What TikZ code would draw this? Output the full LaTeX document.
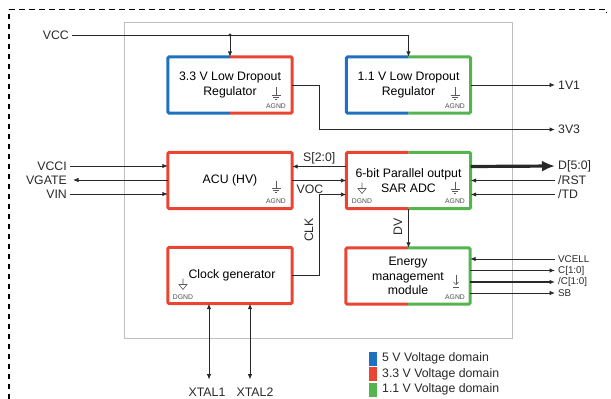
\documentclass[tikz,border=0pt]{standalone}
\usepackage{fontspec}
\setmainfont{Liberation Sans}
\usetikzlibrary{arrows.meta,calc}
\definecolor{vblue}{RGB}{30,112,192}
\definecolor{vred}{RGB}{234,68,50}
\definecolor{vgreen}{RGB}{84,180,78}
\definecolor{wire}{RGB}{40,40,40}
\tikzset{
  blk/.style={minimum width=124pt, minimum height=56pt, inner sep=0pt, align=center,
    font=\fontsize{12.3}{14.6}\selectfont},
  bw/.style={line width=3pt, rounded corners=1.5pt},
  sig/.style={inner sep=0pt, inner xsep=3pt, font=\fontsize{12.3}{14}\selectfont, text=wire},
  ssig/.style={inner sep=0pt, inner xsep=3pt, font=\fontsize{9.8}{11}\selectfont, text=wire},
  tiny/.style={inner sep=0pt, font=\fontsize{6.8}{7}\selectfont, text=black!70},
  arr/.style={draw=wire, line width=0.9pt, -{Latex[length=5.5pt,width=4.5pt]}},
  darr/.style={draw=wire, line width=0.9pt, {Latex[length=5.5pt,width=4.5pt]}-{Latex[length=5.5pt,width=4.5pt]}},
  wr/.style={draw=wire, line width=0.9pt},
  gnd/.pic={\draw[black!65, line width=0.6pt] (0,0) -- (0,8) (-4.5,8) -- (4.5,8) (-2.8,10) -- (2.8,10) (-1,12) -- (1,12);},
  dgnd/.pic={\draw[black!65, line width=0.6pt] (0,0) -- (0,6) (-4,6) -- (4,6) -- (0,11) -- cycle;},
  agnda/.pic={\draw[black!65, line width=0.6pt, -{Straight Barb[length=2.5pt,width=5pt]}] (0,0) -- (0,10); \draw[black!65, line width=0.6pt] (-3,12) -- (3,12);},
}
\begin{document}
\begin{tikzpicture}[x=1pt,y=-1pt]
\useasboundingbox (0,0) rectangle (611,399);
% outer dashed frame
\draw[black, line width=2pt, dash pattern=on 5pt off 5pt] (9,399) -- (9,9);
\draw[black, line width=1pt, dash pattern=on 6pt off 4pt] (9,9) -- (606,9) -- (606,13);
% chip outline
\node[draw=black!25, line width=0.9pt, minimum width=388pt, minimum height=316pt, inner sep=0pt] (chip) at (318,180) {};

% blocks
\node[blk] (ldo3) at (230,85) {3.3 V Low Dropout\\Regulator};
\node[blk] (ldo1) at (408.5,85) {1.1 V Low Dropout\\Regulator};
\node[blk] (acu) at (230,180.5) {ACU (HV)};
\node[blk] (adc) at (408.5,180.5) {6-bit Parallel output\\SAR ADC};
\node[blk] (clk) at (230,275.5) {\hspace*{4pt}Clock generator};
\node[blk] (em) at (408,276) {Energy\\management\\module};

\draw[bw, vblue] (ldo3.north) -| (ldo3.south west) -- (ldo3.south);
\draw[bw, vred] (ldo3.north) -| (ldo3.south east) -- (ldo3.south);
\draw[bw, vblue] (ldo1.north) -| (ldo1.south west) -- (ldo1.south);
\draw[bw, vgreen] (ldo1.north) -| (ldo1.south east) -- (ldo1.south);
\draw[bw, vred] (acu.north west) rectangle (acu.south east);
\draw[bw, vred] (adc.north) -| (adc.south west) -- (adc.south);
\draw[bw, vgreen] (adc.north) -| (adc.south east) -- (adc.south);
\draw[bw, vred] (clk.north west) rectangle (clk.south east);
\draw[bw, vred] (em.north) -| (em.south west) -- (em.south);
\draw[bw, vgreen] (em.north) -| (em.south east) -- (em.south);

% grounds
\pic at ($(ldo3.center)+(46,2)$) {gnd};
\node[tiny] (g1) at ($(ldo3.center)+(46,21)$) {AGND};
\pic at ($(ldo1.center)+(46.5,2)$) {gnd};
\node[tiny] (g2) at ($(ldo1.center)+(46.5,21)$) {AGND};
\pic at ($(acu.center)+(46,0)$) {gnd};
\node[tiny] (g3) at ($(acu.center)+(46,21)$) {AGND};
\pic at ($(adc.center)+(-46.5,2)$) {dgnd};
\node[tiny] (g4) at ($(adc.center)+(-46.5,20.5)$) {DGND};
\pic at ($(adc.center)+(46.5,1)$) {gnd};
\node[tiny] (g5) at ($(adc.center)+(46.5,20.5)$) {AGND};
\pic at ($(clk.center)+(-47,3)$) {dgnd};
\node[tiny] (g6) at ($(clk.center)+(-47,21.5)$) {DGND};
\pic at ($(em.center)+(48,-1)$) {agnda};
\node[tiny] (g7) at ($(em.center)+(47,21)$) {AGND};

% VCC
\node[sig, anchor=east] (vcc) at (72,35) {VCC};
\coordinate (j) at (ldo3.north |- vcc.east);
\draw[arr] (vcc.east) -| (ldo1.north);
\draw[arr] (j) -- (ldo3.north);
\fill[wire] (j) circle (1.6pt);

% outputs of LDOs
\node[sig, anchor=west] (v11) at (555,85) {1V1};
\node[sig, anchor=west] (v33) at (555,129.5) {3V3};
\draw[arr] (ldo1.east) -- (v11.west);
\coordinate (t3) at ($(ldo3.east)+(27,0)$);
\draw[arr] (ldo3.east) -- (t3) |- (v33.west);

% ACU inputs
\node[sig, anchor=east] (vcci) at (70,166) {VCCI};
\node[sig, anchor=east] (vgate) at (70,180) {VGATE};
\node[sig, anchor=east] (vin) at (70,194) {VIN};
\draw[arr] (vcci.east) -- (acu.west |- vcci.east);
\draw[arr] (acu.west |- vgate.east) -- ([xshift=3pt]vgate.east);
\draw[arr] (vin.east) -- (acu.west |- vin.east);

% ACU <-> ADC
\draw[arr, line width=1.6pt] ([yshift=14pt]adc.west) -- ([yshift=14pt]acu.east)
  node[pos=0.5, above=1.5pt, sig, inner xsep=0pt] (slbl) {S[2:0]};
\draw[arr] (acu.east) -- (adc.west);
\node[sig, inner xsep=0pt] (voc) at (310,189) {VOC};
\coordinate (ck) at ($(clk.east)+(27,0)$);
\draw[arr] (clk.east) -- (ck) |- ([yshift=-14pt]adc.west);
\node[sig, rotate=90, inner xsep=0pt] (clkl) at (309,230) {CLK};

% ADC outputs/inputs
\node[sig, anchor=west] (d50) at (555,166) {D[5:0]};
\node[sig, anchor=west] (rst) at (555,180.5) {/RST};
\node[sig, anchor=west] (td) at (555,194.5) {/TD};
\draw[draw=wire, line width=3.2pt, -{Latex[length=13pt,width=11pt]}] ([yshift=14pt]adc.east) -- (d50.west);
\draw[arr] (rst.west) -- (adc.east);
\draw[arr] (td.west) -- ([yshift=-14pt]adc.east);

% DV
\draw[arr] (adc.south) -- (adc.south |- em.north);
\node[sig, rotate=90, inner xsep=0pt] (dvl) at (398,227) {DV};

% Energy management signals
\node[ssig, anchor=west] (vcell) at (555,259) {VCELL};
\node[ssig, anchor=west] (c10) at (555,270.5) {C[1:0]};
\node[ssig, anchor=west] (nc10) at (555,282) {/C[1:0]};
\node[ssig, anchor=west] (sb) at (555,293) {SB};
\draw[arr] (vcell.west) -- (em.east |- vcell.west);
\draw[arr, line width=1.6pt] (em.east |- c10.west) -- (c10.west);
\draw[arr, line width=1.6pt] (em.east |- nc10.west) -- (nc10.west);
\draw[arr] (em.east |- sb.west) -- (sb.west);

% crystal
\node[sig, inner xsep=0pt] (x1) at (207,392) {XTAL1};
\node[sig, inner xsep=0pt] (x2) at (255,392) {XTAL2};
\coordinate (x1t) at ([xshift=-21pt]clk.south);
\coordinate (x2t) at ([xshift=20pt]clk.south);
\coordinate (x1b) at (x1t |- x1.north);
\coordinate (x2b) at (x2t |- x2.north);
\draw[darr] (x1t) -- ([yshift=8pt]x1b);
\draw[darr] (x2t) -- ([yshift=8pt]x2b);

% legend
\tikzset{legsq/.style={minimum width=8pt, minimum height=14pt, inner sep=0pt}}
\node[legsq, fill=vblue] (lb) at (373,358.5) {};
\node[legsq, fill=vred] (lr) at (373,374) {};
\node[legsq, fill=vgreen] (lg) at (373,389.5) {};
\node[sig, anchor=west, inner xsep=0pt] (lbt) at (382,358) {5 V Voltage domain};
\node[sig, anchor=west, inner xsep=0pt] (lrt) at (382,374) {3.3 V Voltage domain};
\node[sig, anchor=west, inner xsep=0pt] (lgt) at (382,389) {1.1 V Voltage domain};
\end{tikzpicture}
\end{document}
